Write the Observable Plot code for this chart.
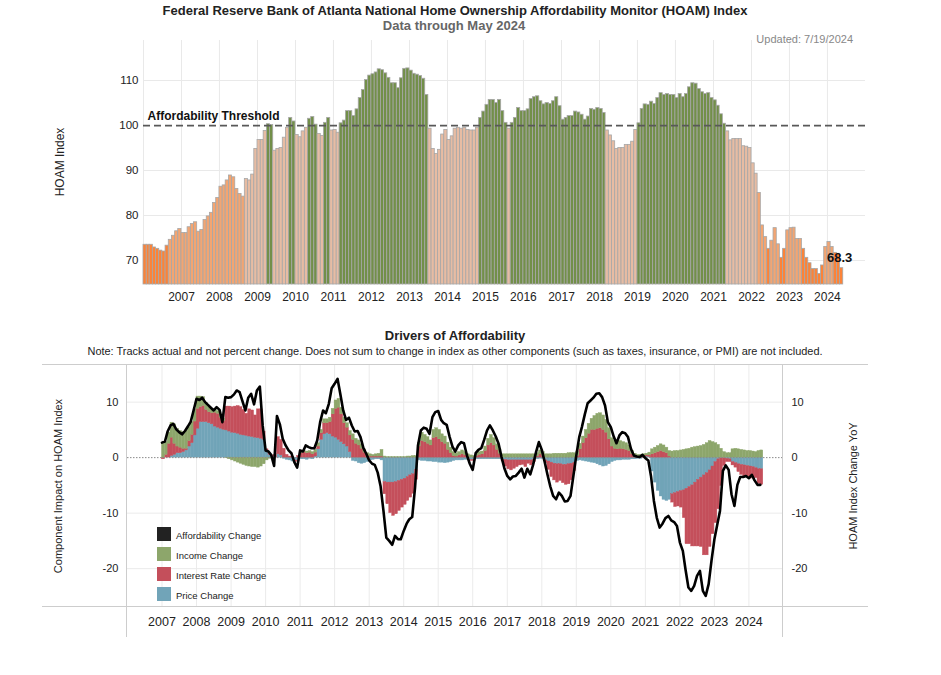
<!DOCTYPE html>
<html>
<head>
<meta charset="utf-8">
<script src="https://cdn.jsdelivr.net/npm/d3@7"></script>
<script src="https://cdn.jsdelivr.net/npm/@observablehq/plot@0.6"></script>
<style>
html,body{margin:0;padding:0;background:#fff;}
#wrap{position:relative;width:941px;height:675px;overflow:hidden;font-family:"Liberation Sans",Arial,Helvetica,sans-serif;color:#222;}
.t{position:absolute;white-space:nowrap;line-height:1;}
.c{transform:translate(-50%,-50%);}
.rot{transform:translate(-50%,-50%) rotate(-90deg);}
.hl{position:absolute;height:0;border-top:1.5px solid #cdcdcd;}
.vl{position:absolute;width:0;border-left:1.5px solid #cdcdcd;}
.sw{position:absolute;width:14px;height:14px;}
#top,#bot{position:absolute;left:0;}
#top{top:0;}
#bot{top:330px;}
</style>
</head>
<body>
<div id="wrap">
  <div id="top"></div>
  <div id="bot"></div>
  <div class="t c" style="left:455px;top:10px;font-size:13px;font-weight:bold;">Federal Reserve Bank of Atlanta National Home Ownership Affordability Monitor (HOAM) Index</div>
  <div class="t c" style="left:454px;top:25px;font-size:13px;font-weight:bold;color:#666;">Data through May 2024</div>
  <div class="t" style="right:88px;top:34px;font-size:11px;color:#888;">Updated: 7/19/2024</div>
  <div class="t rot" style="left:60px;top:162px;font-size:12px;">HOAM Index</div>
  <div class="t c" style="left:455px;top:335px;font-size:13px;font-weight:bold;">Drivers of Affordability</div>
  <div class="t c" style="left:455px;top:351px;font-size:10.95px;">Note: Tracks actual and not percent change. Does not sum to change in index as other components (such as taxes, insurance, or PMI) are not included.</div>
  <div class="t rot" style="left:58px;top:486px;font-size:11px;">Component Impact on HOAM Index</div>
  <div class="t rot" style="left:853px;top:486px;font-size:11px;">HOAM Index Change YoY</div>
  <div class="hl" style="left:42px;top:364px;width:826px;"></div>
  <div class="hl" style="left:42px;top:606px;width:826px;"></div>
  <div class="vl" style="left:126px;top:364px;height:273px;"></div>
  <div class="vl" style="left:782px;top:364px;height:273px;"></div>
  <div id="legend"></div>
</div>
<script>
// ---------------- DATA ----------------
// HOAM index, monthly from Jan 2006 to May 2024
const hoamValues = [
  73.5, 73.5, 73.5, 72.9, 72.6, 72.2, 72.0, 73.3, 74.6, 75.5, 76.5, 77.0,       // 2006
  76.1, 76.1, 77.4, 78.1, 78.5, 76.4, 76.8, 79.0, 79.8, 80.6, 82.8, 83.9,       // 2007
  86.4, 86.7, 87.8, 88.9, 88.5, 85.9, 84.8, 84.2, 88.1, 87.8, 89.1, 94.8,       // 2008
  96.8, 96.8, 98.8, 100.3, 100.1, 94.4, 94.8, 95.0, 97.3, 99.5, 101.7, 100.9,   // 2009
  97.9, 97.4, 98.7, 99.5, 101.5, 101.9, 100.2, 98.1, 97.7, 100.6, 101.7, 98.9,  // 2010
  99.0, 98.4, 100.5, 101.1, 103.2, 103.2, 102.1, 103.6, 106.1, 107.9, 110.1, 111.1, // 2011
  111.4, 111.8, 112.5, 112.3, 111.6, 110.6, 109.4, 109.4, 108.3, 110.5, 112.6, 112.7, // 2012
  112.2, 111.5, 111.3, 111.0, 110.4, 106.8, 99.3, 94.8, 93.7, 94.6, 98.0, 99.0,  // 2013
  96.8, 97.6, 99.3, 99.5, 99.3, 99.5, 99.0, 98.9, 98.9, 99.5, 101.7, 103.1,     // 2014
  104.6, 105.7, 105.7, 105.0, 105.7, 103.2, 100.6, 99.3, 100.6, 101.7, 103.9, 103.2, // 2015
  103.2, 103.6, 105.9, 106.3, 106.5, 105.4, 104.7, 105.0, 104.8, 105.4, 106.3, 104.3, // 2016
  101.3, 101.7, 102.1, 102.1, 103.1, 102.9, 102.4, 101.3, 102.0, 103.7, 103.5, 103.9, // 2017
  103.7, 102.8, 98.9, 97.8, 96.5, 94.8, 95.0, 95.0, 95.7, 95.7, 96.4, 99.0,     // 2018
  100.5, 103.7, 104.7, 104.6, 105.3, 104.8, 106.1, 107.2, 106.8, 107.0, 106.8, 106.8, // 2019
  106.1, 107.0, 106.3, 107.0, 108.5, 109.4, 109.3, 108.1, 107.4, 107.0, 107.2, 106.1, // 2020
  105.6, 104.4, 102.5, 100.4, 98.7, 96.7, 97.0, 97.0, 97.0, 95.4, 95.3, 95.0,   // 2021
  91.6, 89.3, 85.0, 77.8, 75.2, 72.6, 74.4, 77.2, 73.6, 70.6, 72.6, 76.7,       // 2022
  77.2, 77.3, 74.8, 74.8, 72.6, 70.6, 69.4, 68.1, 68.1, 67.0, 68.9, 73.0,       // 2023
  74.1, 73.0, 71.7, 71.5, 68.3                                                  // 2024
];
// affordability band of each month: d = least, o = low, p = near threshold, g = affordable
const hoamBand = [
  "d","d","d","d","d","d","d","d","o","o","o","o",
  "o","o","o","o","o","o","o","o","o","o","o","o",
  "o","o","o","o","o","o","o","o","p","p","p","p",
  "p","p","p","g","g","p","p","p","p","p","g","g",
  "p","p","p","p","g","g","g","p","p","g","g","p",
  "p","p","g","g","g","g","g","g","g","g","g","g",
  "g","g","g","g","g","g","g","g","g","g","g","g",
  "g","g","g","g","g","g","p","p","p","p","p","p",
  "p","p","p","p","p","p","p","p","p","p","g","g",
  "g","g","g","g","g","g","g","p","g","g","g","g",
  "g","g","g","g","g","g","g","g","g","g","g","g",
  "g","g","g","g","g","g","g","g","g","g","g","g",
  "g","g","p","p","p","p","p","p","p","p","p","p",
  "g","g","g","g","g","g","g","g","g","g","g","g",
  "g","g","g","g","g","g","g","g","g","g","g","g",
  "g","g","g","g","p","p","p","p","p","p","p","p",
  "p","p","o","o","o","d","o","o","o","d","d","o",
  "o","o","o","o","d","d","d","d","d","d","d","o",
  "o","o","d","d","d"
];
const bandNames = ["d", "o", "p", "g"];
const bandColors = ["#fc8338", "#f3a572", "#e7bca3", "#728f49"];
const topYTicks = [70, 80, 90, 100, 110];
const thresholdValue = 100;

// Drivers of affordability, monthly from Jan 2007 to May 2024
const priceChange = [
  0, 0, 0, 0.3, 0.5, 0.8, 0.8, 1.0, 1.3, 2.0, 2.6, 4.0,
  5.2, 6.4, 6.4, 6.4, 6.2, 6.0, 5.6, 5.4, 5.2, 5.0, 4.9, 4.7,
  4.5, 4.4, 4.3, 4.1, 4.0, 3.9, 3.8, 3.7, 3.6, 3.5, 3.4, 3.2,
  1.0, 0.5, 0.2, 0.0, 0.6, 0.4, -0.2, -0.4, -0.5, -0.7, -0.5, -0.6,
  -0.3, -0.3, -0.4, -0.2, -0.3, 0.2, 1.5, 3.2, 4.2, 4.4, 4.2, 3.8,
  3.6, 3.2, 2.8, 2.4, 2.0, 1.0, -0.6, -0.7, -1.0, -1.1, -1.0, -0.8,
  -0.5, -0.4, -0.3, -0.3, -0.5, -4.4, -4.5, -4.5, -4.5, -4.4, -4.2, -4.0,
  -3.8, -3.5, -3.2, -3.0, -2.2, -0.5, -0.6, -0.6, -0.7, -0.7, -0.8, -0.8,
  -0.9, -0.9, -1.0, -0.9, -0.8, -0.6, -0.5, -0.5, -0.5, -0.4, -0.4, -0.4,
  -0.4, -0.3, -0.3, -0.3, -0.3, -0.3, -0.3, -0.3, -0.3, -0.3, -0.4, -0.4,
  -0.5, -0.5, -0.5, -0.5, -0.5, -0.5, -0.5, -0.5, -0.5, -0.4, -0.3, -0.2,
  -0.2, -0.5, -0.7, -0.9, -1.1, -1.2, -1.2, -1.3, -1.3, -1.2, -1.1, -0.9,
  -0.6, -0.5, -0.6, -0.7, -0.8, -0.9, -1.0, -1.2, -1.4, -1.6, -1.5, -1.2,
  -0.8, -0.6, -0.5, -0.5, -0.4, -0.4, -0.4, -0.3, -0.3, -0.2, -0.2, -0.1,
  0.2, 0.1, -2.5, -4.5, -6.0, -7.0, -7.6, -7.8, -7.6, -6.6, -6.4, -6.2,
  -6.0, -5.9, -5.6, -5.3, -5.0, -4.5, -4.0, -3.6, -3.2, -2.8, -2.3, -1.6,
  -0.8, -0.3, -0.1, -0.1, -0.2, -0.3, -0.8, -1.0, -1.2, -1.3, -1.4, -1.5,
  -1.6, -1.7, -1.9, -2.1, -2.1
];
const rateChange = [
  -0.3, 0.5, 2.5, 3.3, 2.0, 1.2, 1.0, 0.6, 0.3, 1.0, 1.5, 2.5,
  3.6, 2.7, 2.9, 2.2, 2.0, 2.0, 2.5, 2.5, 2.0, 1.6, 4.3, 4.5,
  4.6, 4.8, 5.0, 5.0, 4.6, 4.0, 4.9, 4.8, 4.0, 5.2, 5.3, 1.5,
  0.5, 0.3, 0.2, 0.5, 3.1, 2.8, 1.6, 0.5, 0.2, 0.1, -0.3, 0.3,
  0.8, 1.0, 0.8, 0.9, 0.6, 0.7, 0.5, 1.2, 2.0, 1.8, 2.2, 4.0,
  5.2, 5.8, 5.0, 3.8, 3.4, 3.0, 3.2, 2.5, 2.2, 1.6, 0.9, 0.4,
  0.2, 0.2, 0.2, 0.2, 0.2, -2.2, -3.9, -5.5, -6.0, -5.8, -5.4, -5.0,
  -4.7, -4.3, -4.0, -3.5, -1.8, 2.0, 3.0, 2.8, 2.5, 2.2, 3.5, 3.7,
  3.3, 2.8, 2.5, 1.4, 0.8, 0.3, 0.2, 0.4, 0.6, 0.4, 0.1, -0.2,
  -0.2, 0.3, 0.5, 0.6, 1.2, 2.2, 2.6, 2.2, 1.4, 0.7, -0.3, -1.2,
  -1.6, -1.8, -1.5, -1.2, -0.9, -0.8, -1.2, -0.6, -0.9, -0.4, 0.2, 0.6,
  0.3, -0.5, -1.5, -2.6, -3.0, -3.3, -3.0, -3.3, -3.6, -3.6, -3.0, -1.5,
  0.3, 1.5, 2.6, 3.5, 4.3, 5.0, 5.0, 5.2, 5.3, 5.0, 4.5, 3.3,
  2.0, 1.6, 1.5, 1.6, 1.5, 1.4, 1.2, 0.6, 0.3, 0.2, 0.2, 0.3,
  0.2, 0.3, 0.6, 0.8, 1.0, 1.2, 1.0, 0.8, 0.2, -1.5, -2.5, -2.6,
  -3.0, -5.0, -10.0, -10.3, -11.0, -11.5, -12.0, -12.5, -14.4, -14.8, -13.8, -12.2,
  -11.0, -9.0, -5.0, -1.4, -0.6, -0.5, -0.6, -0.8, -1.4, -1.8, -2.0, -2.0,
  -2.2, -1.9, -1.8, -2.6, -2.8
];
const incomeChange = [
  2.5, 2.3, 2.0, 2.7, 3.5, 3.2, 3.0, 3.0, 3.2, 2.5, 2.3, 2.2,
  2.2, 1.9, 1.6, 1.2, 0.9, 0.8, 0.6, 0.5, 0.5, 0.4, -0.1, -0.3,
  -0.5, -0.7, -0.9, -1.1, -1.3, -1.5, -1.6, -1.7, -1.7, -1.8, -1.6, -1.2,
  -0.5, -0.2, -0.1, 0, 0, 0, 0, 0, 0, 0, 0, 0,
  0.2, 0.2, 0.3, 0.3, 0.4, 0.5, 0.6, 0.6, 0.7, 0.7, 0.8, 1.0,
  1.5, 1.6, 1.2, 1.0, 0.8, 0.8, 1.0, 0.9, 0.9, 0.8, 0.6, 0.4,
  0.4, 0.3, 0.4, 0.5, 1.2, 0.2, 0.1, 0.1, 0.1, 0.1, 0.1, 0.1,
  0.1, 0.2, 0.2, 0.3, 0.3, 0.6, 1.5, 1.3, 1.2, 0.9, 1.5, 1.6,
  1.7, 1.4, 1.3, 1.3, 1.0, 0.7, 0.6, 0.6, 0.7, 0.6, 0.5, 0.4,
  0.3, 0.4, 0.5, 0.5, 0.8, 1.2, 1.5, 1.3, 1.0, 0.8, 0.6, 0.6,
  0.6, 0.6, 0.6, 0.6, 0.6, 0.6, 0.6, 0.6, 0.6, 0.6, 0.6, 0.7,
  0.7, 0.6, 0.6, 0.6, 0.7, 0.7, 0.7, 0.7, 0.7, 0.8, 0.8, 0.8,
  0.8, 1.0, 1.2, 1.5, 1.8, 2.0, 2.5, 2.7, 2.7, 2.6, 2.3, 2.0,
  1.5, 1.4, 1.4, 1.4, 1.3, 1.2, 1.0, 0.6, 0.4, 0.3, 0.3, 0.3,
  0.3, 0.5, 0.9, 1.0, 1.1, 1.2, 1.2, 1.0, 1.0, 1.1, 1.2, 1.2,
  1.3, 1.4, 1.5, 1.6, 1.8, 1.9, 2.0, 2.1, 2.3, 2.6, 3.0, 2.8,
  2.6, 2.3, 1.6, 1.0, 0.8, 0.8, 1.5, 1.6, 1.5, 1.4, 1.3, 1.2,
  1.2, 1.1, 1.0, 1.2, 1.3
];
const affordChange = [
  2.7, 2.9, 4.7, 5.8, 6.1, 5.1, 4.6, 4.2, 4.8, 5.6, 6.5, 8.5,
  10.6, 10.4, 10.8, 10.0, 9.5, 9.0, 8.5, 9.1, 8.6, 6.4, 10.9, 10.8,
  10.9, 11.4, 12.1, 11.8, 10.2, 8.5, 10.8, 11.5, 9.6, 12.1, 12.8, 5.8,
  1.3, 1.1, 0.5, -1.5, 7.5, 6.0, 3.4, 2.2, 1.3, 0.8, -0.8, -1.8,
  1.3, 1.1, 2.2, 1.9, 1.7, 1.7, 3.1, 6.4, 8.5, 8.0, 9.7, 12.5,
  13.3, 14.2, 11.5, 8.5, 6.8, 7.2, 5.8, 4.7, 4.8, 3.7, 1.7, 0.7,
  -0.5, -1.1, -1.3, -2.7, -5.1, -9.6, -14.4, -15.0, -15.7, -14.1, -14.7, -14.7,
  -13.2, -11.9, -11.1, -10.7, -5.4, 2.2, 4.9, 5.4, 5.2, 4.3, 7.3, 8.2,
  8.4, 6.8, 6.2, 5.9, 3.8, 2.0, 1.1, 2.2, 2.8, 2.6, 0.4, -1.1,
  -2.2, 0.8, 1.4, 1.7, 3.2, 4.9, 5.8, 4.9, 3.8, 2.5, 0.1, -1.9,
  -3.3, -3.9, -3.4, -3.3, -2.7, -2.0, -3.6, -2.0, -3.0, -1.3, 1.0, 2.8,
  1.4, -0.8, -3.0, -5.2, -6.9, -7.5, -6.3, -6.9, -7.9, -7.8, -6.9, -3.3,
  0.4, 3.7, 5.5, 7.8, 9.8, 10.3, 10.8, 11.5, 11.6, 10.9, 9.4, 6.4,
  5.5, 3.8, 2.6, 4.0, 4.6, 4.4, 3.7, 1.6, 0.4, 0.2, 0.1, 0.5,
  -0.1, -0.5, -3.3, -7.8, -10.8, -12.6, -11.9, -10.9, -10.5, -11.3, -11.6, -12.3,
  -15.3, -16.8, -20.1, -23.4, -24.0, -23.1, -21.3, -20.4, -24.0, -24.9, -22.8, -18.6,
  -14.7, -12.0, -9.6, -2.4, -1.4, -2.2, -6.6, -8.7, -4.9, -3.5, -3.5, -3.3,
  -3.7, -3.1, -4.1, -4.9, -4.9
];
const seriesNames = ["Price Change", "Interest Rate Change", "Income Change"];
const seriesColors = ["#71a4b8", "#c44f5b", "#8da66b"];
const lineName = "Affordability Change";
const lineColor = "#000000";
const botYTicks = [-20, -10, 0, 10];
const yearLabels = d3.range(2007, 2025);

// ---------------- BUILD ----------------
const monthDate = (y, m) => new Date(Date.UTC(y, m, 1));
const yearDate = (y) => new Date(Date.UTC(y, 0, 1));
const xDomain = [yearDate(2006), yearDate(2025)];
const fontFamily = '"Liberation Sans", Arial, Helvetica, sans-serif';

const topData = hoamValues.map((v, i) => ({start: monthDate(2006, i), end: monthDate(2006, i + 1), value: v, band: hoamBand[i]}));
const lastPoint = topData[topData.length - 1];
const topYMin = 64.67, topYMax = 118.9;

const topPlot = Plot.plot({
  width: 941, height: 310,
  marginLeft: 143, marginRight: 76, marginTop: 40, marginBottom: 26,
  style: {fontFamily, fontSize: "12px", color: "#222", background: "transparent"},
  x: {type: "utc", domain: xDomain},
  y: {domain: [topYMin, topYMax]},
  color: {domain: bandNames, range: bandColors},
  marks: [
    Plot.ruleX(d3.range(2006, 2025).map(yearDate), {stroke: "#e9e9e9", strokeWidth: 1}),
    Plot.ruleY(topYTicks.filter(d => d !== thresholdValue), {stroke: "#e9e9e9", strokeWidth: 1}),
    Plot.rect(topData, {x1: "start", x2: "end", y1: topYMin, y2: "value", fill: "band", stroke: "#a7a7a7", strokeWidth: 0.8}),
    Plot.ruleY([thresholdValue], {stroke: "#585858", strokeWidth: 1.8, strokeDasharray: "7,4"}),
    Plot.text([{date: xDomain[0], value: thresholdValue, label: "Affordability Threshold"}],
      {x: "date", y: "value", text: "label", textAnchor: "start", dx: 4, dy: -9, fontWeight: "bold", fontSize: 12, fill: "#111"}),
    Plot.text([lastPoint], {x: d => new Date((+d.start + +d.end) / 2), y: "value", text: d => d.value.toFixed(1),
      dy: -10, dx: -2, fontWeight: "bold", fontSize: 13, fill: "#111"}),
    Plot.axisX({ticks: yearLabels.map(yearDate), tickFormat: "%Y", tickSize: 0, tickPadding: 8, fontSize: 12, label: null}),
    Plot.axisY({ticks: topYTicks, tickSize: 0, tickPadding: 5, fontSize: 11.5, label: null})
  ]
});
document.getElementById("top").appendChild(topPlot);

const compSources = [priceChange, rateChange, incomeChange];
const compData = seriesNames.flatMap((name, k) => compSources[k].map((v, i) => ({start: monthDate(2007, i), end: monthDate(2007, i + 1), value: v, series: name})));
const lineData = affordChange.map((v, i) => ({date: monthDate(2007, i), value: v}));

const botPlot = Plot.plot({
  width: 941, height: 320,
  marginLeft: 127, marginRight: 158, marginTop: 35, marginBottom: 43,
  style: {fontFamily, fontSize: "11px", color: "#222", background: "transparent"},
  x: {type: "utc", domain: xDomain},
  y: {domain: [-27, 16.6]},
  color: {domain: seriesNames, range: seriesColors},
  marks: [
    Plot.ruleX(yearLabels.map(yearDate), {stroke: "#ebebeb", strokeWidth: 1}),
    Plot.ruleY(botYTicks.filter(d => d !== 0), {stroke: "#ebebeb", strokeWidth: 1}),
    Plot.rectY(compData, {x1: "start", x2: "end", y: "value", fill: "series", stroke: "series", strokeWidth: 0.4}),
    Plot.ruleY([0], {stroke: "#8a8a8a", strokeWidth: 1, strokeDasharray: "1.5,1.5"}),
    Plot.line(lineData, {x: "date", y: "value", stroke: lineColor, strokeWidth: 2.6, strokeLinejoin: "round"}),
    Plot.axisX({ticks: yearLabels.map(yearDate), tickFormat: "%Y", tickSize: 0, tickPadding: 10, fontSize: 12.5, label: null}),
    Plot.axisY({anchor: "left", ticks: botYTicks, tickFormat: d => String(d), tickSize: 0, tickPadding: 9, fontSize: 11, label: null}),
    Plot.axisY({anchor: "right", ticks: botYTicks, tickFormat: d => String(d), tickSize: 0, tickPadding: 8, fontSize: 11, label: null})
  ]
});
document.getElementById("bot").appendChild(botPlot);

// legend (HTML)
const legendItems = [[lineName, "#222222"], ...seriesNames.slice().reverse().map((n) => [n, seriesColors[seriesNames.indexOf(n)]])];
const legend = document.getElementById("legend");
legendItems.forEach(([name, color], i) => {
  const top = 527 + i * 20;
  const sw = document.createElement("div");
  sw.className = "sw";
  sw.style.left = "157px"; sw.style.top = top + "px"; sw.style.background = color;
  legend.appendChild(sw);
  const lb = document.createElement("div");
  lb.className = "t";
  lb.style.left = "176px"; lb.style.top = (top + 9) + "px"; lb.style.fontSize = "9.5px";
  lb.style.transform = "translateY(-50%)";
  lb.textContent = name;
  legend.appendChild(lb);
});
</script>
</body>
</html>
